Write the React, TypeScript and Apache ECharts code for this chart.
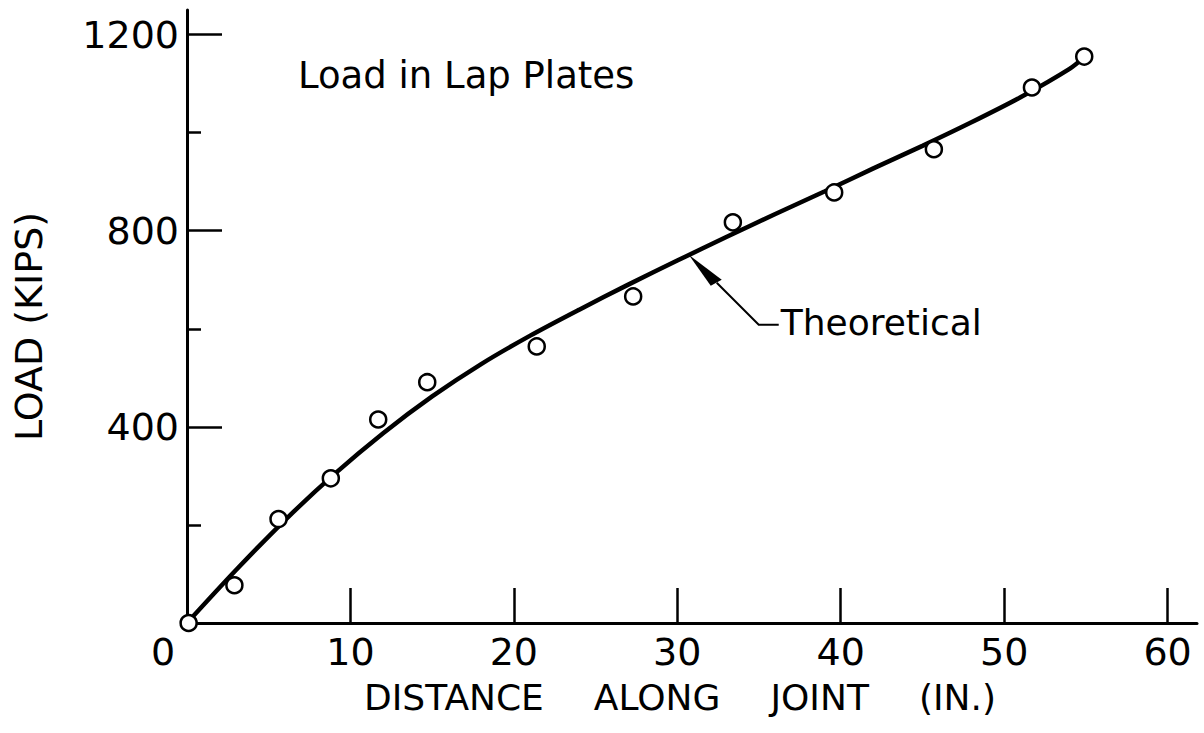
import React, { useEffect, useRef } from "react";
import * as echarts from "echarts";

// Theoretical curve (distance in., load kips)
const curveX = [0, 3, 6, 9, 12, 15, 18, 21, 24, 27, 30, 33, 36, 39, 42, 45, 48, 51, 54, 54.9];
const curveLoad = [0, 108, 210, 303, 387, 462, 528, 586, 639, 690, 739, 787, 834, 880, 927, 973, 1021, 1072, 1130, 1154];

// Test points
const testX = [0.1, 2.9, 5.6, 8.8, 11.7, 14.7, 21.4, 27.3, 33.4, 39.6, 45.7, 51.7, 54.9];
const testLoad = [0, 77, 212, 295, 415, 491, 564, 666, 817, 878, 966, 1092, 1155];

const xTickValues = [10, 20, 30, 40, 50, 60];
const xLabelValues = [0, 10, 20, 30, 40, 50, 60];
const yMajorTicks = [0, 400, 800, 1200];
const yMinorTicks = [200, 600, 1000];
const yLabelValues = [400, 800, 1200];

const titleText = "Load in Lap Plates";
const annotText = "Theoretical";
const annotAt = [30.7, 751];

const FONT = "DejaVu Sans";

export default function App() {
  const ref = useRef<HTMLDivElement>(null);
  useEffect(() => {
    if (!ref.current) return;
    const chart = echarts.init(ref.current, null, { renderer: "svg" });
    const tickLabelStyle = { fontFamily: FONT, fontSize: 38, color: "#000" };
    chart.setOption({
      animation: false,
      backgroundColor: "#fff",
      grid: { left: 187, top: 10, width: 1010, height: 613 },
      xAxis: {
        type: "value",
        min: 0,
        max: 61.8,
        splitLine: { show: false },
        axisLine: { lineStyle: { color: "#000", width: 3 } },
        axisTick: { inside: true, length: 35, lineStyle: { color: "#000", width: 2.5 }, customValues: xTickValues },
        axisLabel: {
          ...tickLabelStyle,
          margin: 10,
          customValues: xLabelValues,
          formatter: (v: number) => (v === 0 ? "{z|0}" : String(v)),
          rich: { z: { ...tickLabelStyle, padding: [0, 48, 0, 0] } },
        },
        name: "{w|DISTANCE}{s| }{w|ALONG}{s| }{w|JOINT}{s| }{w|(IN.)}",
        nameLocation: "middle",
        nameGap: 56,
        nameTextStyle: {
          fontFamily: FONT,
          fontSize: 36,
          color: "#000",
          padding: [0, 24, 0, 0],
          rich: {
            w: { fontFamily: FONT, fontSize: 36, color: "#000" },
            s: { fontFamily: FONT, fontSize: 36, width: 50 },
          },
        },
      },
      yAxis: [
        {
          type: "value",
          position: "left",
          min: 0,
          max: 1250,
          splitLine: { show: false },
          axisLine: { lineStyle: { color: "#000", width: 3 } },
          axisTick: { inside: true, length: 35, lineStyle: { color: "#000", width: 2.5 }, customValues: yMajorTicks },
          axisLabel: { ...tickLabelStyle, margin: 8, customValues: yLabelValues, formatter: (v: number) => String(v) },
          name: "LOAD (KIPS)",
          nameLocation: "middle",
          nameGap: 139,
          nameTextStyle: { fontFamily: FONT, fontSize: 38, color: "#000", padding: [0, 20, 0, 0] },
        },
        {
          type: "value",
          position: "left",
          min: 0,
          max: 1250,
          splitLine: { show: false },
          axisLine: { show: false },
          axisTick: { inside: true, length: 14, lineStyle: { color: "#000", width: 2.5 }, customValues: yMinorTicks },
          axisLabel: { show: false },
        },
      ],
      series: [
        {
          type: "line",
          name: annotText,
          data: curveX.map((x, i) => [x, curveLoad[i]]),
          smooth: 0.3,
          showSymbol: false,
          symbol: "none",
          lineStyle: { color: "#000", width: 4.5 },
          z: 2,
        },
        {
          type: "scatter",
          name: "Test",
          data: testX.map((x, i) => [x, testLoad[i]]),
          symbol: "circle",
          symbolSize: 16,
          itemStyle: { color: "#fff", borderColor: "#000", borderWidth: 2.5, opacity: 1 },
          z: 3,
        },
      ],
    });

    const tip = chart.convertToPixel({ gridIndex: 0 }, annotAt) as number[];
    const tx = tip[0];
    const ty = tip[1];
    chart.setOption({
      graphic: [
        {
          type: "text",
          left: 298,
          top: 57,
          style: { text: titleText, font: `37px "${FONT}"`, fill: "#000" },
        },
        {
          type: "polygon",
          shape: { points: [[tx, ty], [tx + 22, ty + 31], [tx + 33, ty + 25]] },
          style: { fill: "#000" },
        },
        {
          type: "polyline",
          shape: { points: [[tx + 28, ty + 28], [tx + 70, ty + 70], [tx + 90, ty + 70]] },
          style: { stroke: "#000", lineWidth: 2, fill: null },
        },
        {
          type: "text",
          x: tx + 92,
          y: ty + 68,
          style: { text: annotText, font: `36px "${FONT}"`, fill: "#000", textVerticalAlign: "middle", verticalAlign: "middle" },
        },
      ],
    });

    return () => chart.dispose();
  }, []);
  return (
    <div
      ref={ref}
      style={{ position: "fixed", left: 0, top: 0, width: 1204, height: 733, background: "#fff" }}
    />
  );
}
